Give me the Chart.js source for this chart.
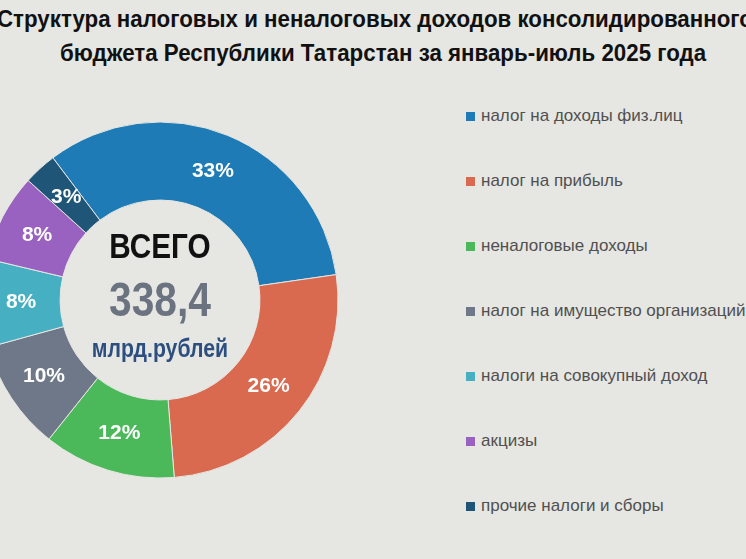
<!DOCTYPE html>
<html><head><meta charset="utf-8">
<script src="https://cdn.jsdelivr.net/npm/chart.js@4"></script>
<style>
body{margin:0;width:746px;height:559px;background:#e6e6e2;overflow:hidden;position:relative;font-family:'Liberation Sans',Arial,sans-serif}
.title{position:absolute;font-weight:bold;font-size:23px;color:#111;white-space:nowrap;transform-origin:left top;transform:scaleX(0.97)}
#wrap{position:absolute;left:-40px;top:100px;width:400px;height:400px}
.center{position:absolute;left:0;width:320px;text-align:center;font-weight:bold;transform:scaleX(0.85)}
#legend{position:absolute;left:466px;top:104px;margin:0;padding:0;list-style:none}
#legend li{height:65px;font-size:17px;color:#505050;display:flex;align-items:flex-start;line-height:24px}
#legend span{display:inline-block;width:9px;height:9px;margin:8px 6px 0 0}
</style></head><body>
<div class="title" style="left:-3px;top:6px">Структура налоговых и неналоговых доходов консолидированного</div>
<div class="title" style="left:60px;top:40px">бюджета Республики Татарстан за январь-июль 2025 года</div>
<div id="wrap"><canvas id="c" width="400" height="400"></canvas></div>
<div class="center" style="top:226px;font-size:35px;color:#111">ВСЕГО</div>
<div class="center" style="top:272px;font-size:48px;color:#6b7380">338,4</div>
<div class="center" style="top:334px;font-size:25px;color:#2c4f80">млрд.рублей</div>
<ul id="legend"></ul>
<script>
const categories = ['налог на доходы физ.лиц','налог на прибыль','неналоговые доходы','налог на имущество организаций','налоги на совокупный доход','акцизы','прочие налоги и сборы'];
const shares = [33, 26, 12, 10, 8, 8, 3];
const colors = ['#1f7bb5','#d9694f','#4bb85a','#6e7888','#47afc2','#9a62c0','#1f5576'];

const legend = document.getElementById('legend');
categories.forEach((c, i) => {
    const li = document.createElement('li');
    li.innerHTML = `<span style="background:${colors[i]}"></span>${c}`;
    legend.appendChild(li);
});

// percent labels in the middle of each arc
const arcLabels = {
    id: 'arcLabels',
    afterDatasetsDraw(chart) {
        const ctx = chart.ctx;
        ctx.save();
        ctx.font = "bold 21px 'Liberation Sans Narrow', 'Liberation Sans', Arial, sans-serif";
        ctx.fillStyle = '#fff';
        ctx.textAlign = 'center';
        ctx.textBaseline = 'middle';
        chart.getDatasetMeta(0).data.forEach((arc, i) => {
            const p = arc.tooltipPosition();
            ctx.fillText(shares[i] + '%', p.x, p.y);
        });
        ctx.restore();
    }
};

new Chart(document.getElementById('c'), {
    type: 'doughnut',
    data: { labels: categories, datasets: [{ data: shares, backgroundColor: colors, borderColor: '#e6e6e2', borderWidth: 1 }] },
    options: {
        responsive: false,
        animation: false,
        rotation: -37,
        radius: 178,
        cutout: 112,
        layout: { padding: 0 },
        plugins: { legend: { display: false }, tooltip: { enabled: false } }
    },
    plugins: [arcLabels]
});
</script>
</body></html>
